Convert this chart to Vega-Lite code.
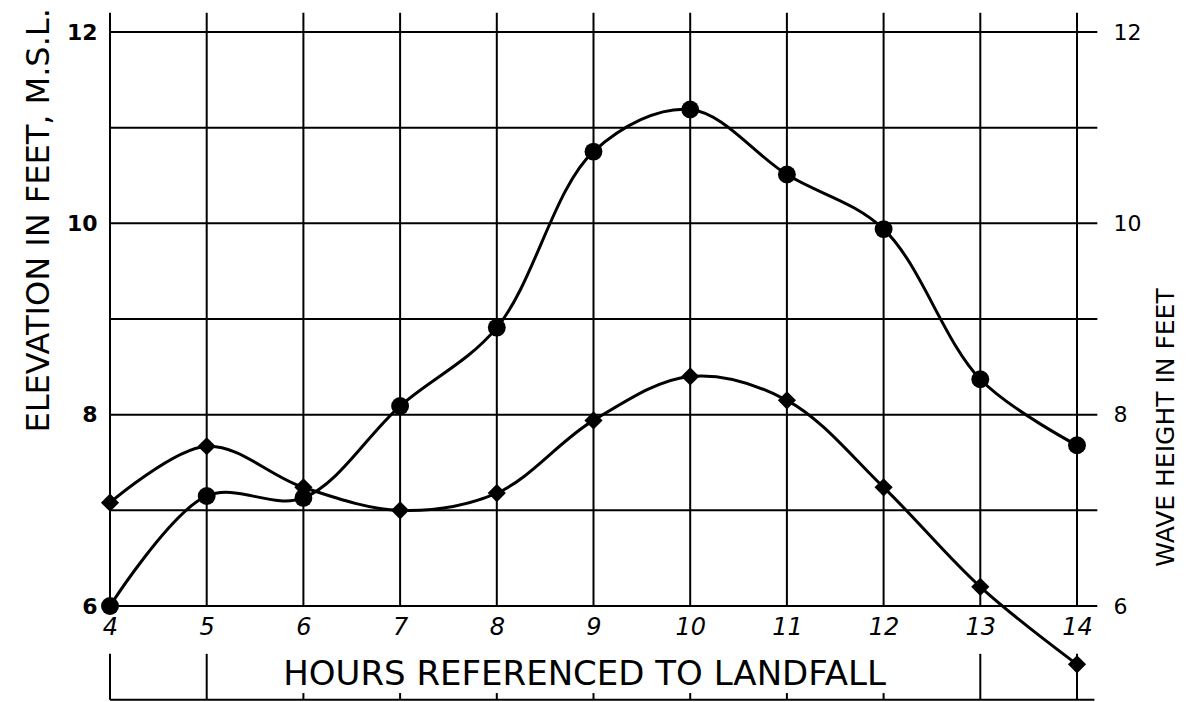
{
  "$schema": "https://vega.github.io/schema/vega-lite/v6.json",
  "width": 967,
  "height": 574,
  "autosize": {"type": "none"},
  "padding": {"left": 110, "top": 32, "right": 121, "bottom": 96},
  "background": "white",
  "config": {"view": {"stroke": null}, "font": "DejaVu Sans"},
  "datasets": {
    "obs": [
      {"hour": 4, "elevation": 6.0, "wave": 7.08},
      {"hour": 5, "elevation": 7.15, "wave": 7.67},
      {"hour": 6, "elevation": 7.13, "wave": 7.24},
      {"hour": 7, "elevation": 8.09, "wave": 7.0},
      {"hour": 8, "elevation": 8.91, "wave": 7.18},
      {"hour": 9, "elevation": 10.75, "wave": 7.94},
      {"hour": 10, "elevation": 11.19, "wave": 8.4},
      {"hour": 11, "elevation": 10.51, "wave": 8.15},
      {"hour": 12, "elevation": 9.94, "wave": 7.24},
      {"hour": 13, "elevation": 8.37, "wave": 6.2},
      {"hour": 14, "elevation": 7.68, "wave": 5.39}
    ],
    "levels": [{"level": 6}, {"level": 7}, {"level": 8}, {"level": 9}, {"level": 10}, {"level": 11}, {"level": 12}],
    "hours": [{"hour": 4}, {"hour": 5}, {"hour": 6}, {"hour": 7}, {"hour": 8}, {"hour": 9}, {"hour": 10}, {"hour": 11}, {"hour": 12}, {"hour": 13}, {"hour": 14}],
    "one": [{}]
  },
  "layer": [
    {
      "data": {"name": "hours"},
      "mark": {"type": "rule", "color": "black", "strokeWidth": 2, "clip": false},
      "encoding": {
        "x": {
          "field": "hour", "type": "quantitative",
          "scale": {"domain": [4, 14], "nice": false, "zero": false},
          "axis": {
            "values": [4, 5, 6, 7, 8, 9, 10, 11, 12, 13, 14], "format": "d",
            "grid": false, "domain": false, "ticks": false,
            "labelFontSize": 24, "labelFontStyle": "italic", "labelColor": "black", "labelPadding": 9, "labelFlush": false,
            "title": "HOURS REFERENCED TO LANDFALL",
            "titleFontSize": 34, "titleFontWeight": "normal", "titleColor": "black",
            "titleX": 474, "titleY": 51, "titleBaseline": "top"
          }
        },
        "y": {"datum": 6, "type": "quantitative", "scale": {"domain": [6, 12], "nice": false, "zero": false}, "axis": null},
        "y2": {"datum": 12.2}
      }
    },
    {
      "data": {"name": "levels"},
      "mark": {"type": "rule", "color": "black", "strokeWidth": 2, "clip": false},
      "encoding": {
        "x": {"datum": 4, "type": "quantitative", "scale": {"domain": [4, 14], "nice": false, "zero": false}},
        "x2": {"datum": 14.21},
        "y": {"field": "level", "type": "quantitative", "scale": {"domain": [6, 12], "nice": false, "zero": false}, "axis": null}
      }
    },
    {
      "data": {"name": "one"},
      "mark": {"type": "rule", "color": "black", "strokeWidth": 2, "clip": false},
      "encoding": {
        "x": {"datum": 4, "type": "quantitative", "scale": {"domain": [4, 14], "nice": false, "zero": false}},
        "x2": {"datum": 14.18},
        "y": {"datum": 5.02, "type": "quantitative", "scale": {"domain": [6, 12], "nice": false, "zero": false}, "axis": null}
      }
    },
    {
      "data": {"name": "hours"},
      "transform": [{"filter": {"field": "hour", "oneOf": [4, 5, 13, 14]}}],
      "mark": {"type": "rule", "color": "black", "strokeWidth": 2, "clip": false},
      "encoding": {
        "x": {"field": "hour", "type": "quantitative", "scale": {"domain": [4, 14], "nice": false, "zero": false}},
        "y": {"datum": 5.02, "type": "quantitative", "scale": {"domain": [6, 12], "nice": false, "zero": false}, "axis": null},
        "y2": {"datum": 5.5}
      }
    },
    {
      "data": {"name": "hours"},
      "transform": [{"filter": {"field": "hour", "oneOf": [6, 7, 8, 9, 10, 11, 12]}}],
      "mark": {"type": "rule", "color": "black", "strokeWidth": 2, "clip": false},
      "encoding": {
        "x": {"field": "hour", "type": "quantitative", "scale": {"domain": [4, 14], "nice": false, "zero": false}},
        "y": {"datum": 5.02, "type": "quantitative", "scale": {"domain": [6, 12], "nice": false, "zero": false}, "axis": null},
        "y2": {"datum": 5.09}
      }
    },
    {
      "data": {"name": "obs"},
      "mark": {"type": "line", "color": "black", "strokeWidth": 3, "interpolate": "catmull-rom", "clip": false},
      "encoding": {
        "x": {"field": "hour", "type": "quantitative", "scale": {"domain": [4, 14], "nice": false, "zero": false}},
        "y": {
          "field": "elevation", "type": "quantitative",
          "scale": {"domain": [6, 12], "nice": false, "zero": false},
          "axis": {
            "orient": "left", "values": [6, 8, 10, 12],
            "grid": false, "domain": false, "ticks": false,
            "labelFontSize": 22, "labelFontWeight": "bold", "labelColor": "black", "labelPadding": 13,
            "title": "ELEVATION IN FEET, M.S.L.",
            "titleFontSize": 32, "titleFontWeight": "normal", "titleColor": "black",
            "titleAngle": -90, "titleAlign": "left", "titleBaseline": "middle",
            "titleX": -72, "titleY": 400
          }
        }
      }
    },
    {
      "data": {"name": "obs"},
      "mark": {"type": "point", "shape": "circle", "filled": true, "color": "black", "opacity": 1, "size": 320, "clip": false},
      "encoding": {
        "x": {"field": "hour", "type": "quantitative", "scale": {"domain": [4, 14], "nice": false, "zero": false}},
        "y": {"field": "elevation", "type": "quantitative", "scale": {"domain": [6, 12], "nice": false, "zero": false}, "axis": null}
      }
    },
    {
      "data": {"name": "obs"},
      "mark": {"type": "line", "color": "black", "strokeWidth": 3, "interpolate": "catmull-rom", "clip": false},
      "encoding": {
        "x": {"field": "hour", "type": "quantitative", "scale": {"domain": [4, 14], "nice": false, "zero": false}},
        "y": {
          "field": "wave", "type": "quantitative",
          "scale": {"domain": [6, 12], "nice": false, "zero": false},
          "axis": {
            "orient": "right", "values": [6, 8, 10, 12],
            "grid": false, "domain": false, "ticks": false,
            "labelFontSize": 22, "labelColor": "black", "labelPadding": 36,
            "title": "WAVE HEIGHT IN FEET",
            "titleFontSize": 25, "titleFontWeight": "normal", "titleColor": "black",
            "titleAngle": -90, "titleAlign": "center", "titleBaseline": "middle",
            "titleX": 88, "titleY": 395
          }
        }
      }
    },
    {
      "data": {"name": "obs"},
      "mark": {"type": "point", "shape": "diamond", "filled": true, "color": "black", "opacity": 1, "size": 330, "clip": false},
      "encoding": {
        "x": {"field": "hour", "type": "quantitative", "scale": {"domain": [4, 14], "nice": false, "zero": false}},
        "y": {"field": "wave", "type": "quantitative", "scale": {"domain": [6, 12], "nice": false, "zero": false}, "axis": null}
      }
    }
  ],
  "resolve": {"scale": {"y": "independent"}}
}
